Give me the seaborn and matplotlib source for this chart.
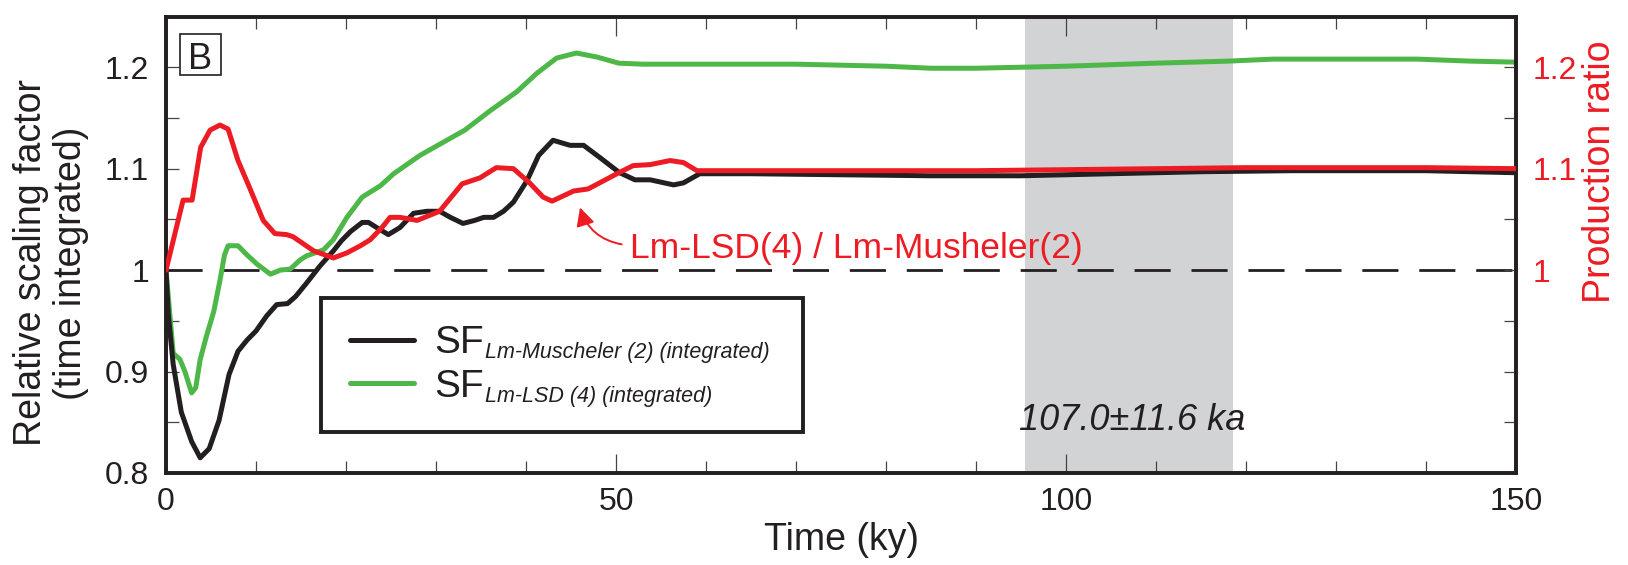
import matplotlib
matplotlib.use("Agg")
import matplotlib.pyplot as plt
import seaborn as sns
from matplotlib.ticker import FixedLocator, FixedFormatter, NullFormatter
from matplotlib.patches import Rectangle
from matplotlib.lines import Line2D
from matplotlib.legend_handler import HandlerLine2D

# ---------------- data ----------------
t_musch = [0, 0.26, 0.8, 1.7, 2.85, 3.8, 4.8, 5.9, 7.0, 8.0, 9.0, 10.0, 11.2, 12.3, 13.5,
           14.4, 15.6, 17.1, 18.6, 19.5, 20.5, 21.8, 22.5, 23.4, 24.7, 26.0, 27.5, 29.0,
           30.4, 31.6, 33.0, 34.3, 35.3, 36.4, 37.5, 38.6, 40.1, 41.4, 43.0, 44.9, 46.4,
           48.2, 50.4, 52.1, 53.8, 56.4, 57.5, 59.3, 65, 75, 85, 95, 105, 115, 125, 140, 150]
sf_musch = [1.0, 0.956, 0.907, 0.860, 0.831, 0.815, 0.824, 0.852, 0.897, 0.920, 0.931, 0.940,
            0.955, 0.966, 0.967, 0.974, 0.987, 1.004, 1.019, 1.029, 1.038, 1.047, 1.047, 1.042,
            1.035, 1.042, 1.056, 1.058, 1.058, 1.052, 1.046, 1.049, 1.052, 1.052, 1.058, 1.067,
            1.088, 1.113, 1.128, 1.123, 1.123, 1.111, 1.096, 1.089, 1.089, 1.084, 1.086, 1.095,
            1.095, 1.094, 1.093, 1.093, 1.095, 1.097, 1.098, 1.098, 1.096]

t_lsd = [0, 0.8, 1.55, 2.1, 2.85, 3.3, 3.8, 4.5, 5.3, 6.0, 6.5, 6.9, 8.0, 9.0, 10.1, 11.6,
         12.7, 13.8, 14.9, 15.6, 17.5, 18.6, 20.1, 21.8, 23.8, 25.3, 28.2, 30.8, 33.2, 36.0,
         39.0, 41.2, 43.4, 45.6, 47.9, 50.3, 53.0, 60, 70, 75, 80, 85, 90, 95, 100, 110, 118,
         123, 130, 139, 145, 150]
sf_lsd = [1.0, 0.918, 0.912, 0.900, 0.879, 0.884, 0.912, 0.935, 0.959, 0.990, 1.015, 1.024,
          1.024, 1.015, 1.006, 0.996, 1.000, 1.001, 1.010, 1.014, 1.020, 1.030, 1.052, 1.072,
          1.083, 1.095, 1.113, 1.126, 1.138, 1.157, 1.176, 1.194, 1.209, 1.214, 1.210, 1.204,
          1.203, 1.203, 1.203, 1.202, 1.201, 1.199, 1.199, 1.200, 1.201, 1.204, 1.206, 1.208,
          1.208, 1.208, 1.206, 1.205]

t_ratio = [0, 1.9, 2.9, 3.85, 4.9, 6.0, 6.9, 8.0, 9.3, 10.8, 12.1, 13.4, 14.1, 16.4, 18.6,
           20.1, 21.6, 22.7, 24.0, 24.9, 26.0, 27.9, 30.4, 32.9, 34.9, 36.7, 38.6, 40.4, 41.9,
           42.9, 45.3, 46.9, 50.1, 51.9, 53.8, 56.0, 57.5, 59.0, 63.8, 70, 80, 90, 100, 110,
           120, 130, 140, 150]
prod_ratio = [1.0, 1.069, 1.069, 1.121, 1.138, 1.143, 1.139, 1.108, 1.081, 1.049, 1.036, 1.035,
              1.033, 1.019, 1.012, 1.017, 1.024, 1.030, 1.042, 1.052, 1.052, 1.049, 1.058, 1.085,
              1.091, 1.101, 1.100, 1.086, 1.072, 1.068, 1.078, 1.080, 1.095, 1.103, 1.104, 1.108,
              1.106, 1.098, 1.098, 1.098, 1.098, 1.098, 1.099, 1.100, 1.101, 1.101, 1.101, 1.100]

age_center = 107.0
age_err = 11.6

x_ticks = [0, 50, 100, 150]
x_minor = [10, 20, 30, 40, 60, 70, 80, 90, 110, 120, 130, 140]
left_ticks = [0.8, 0.9, 1.0, 1.1, 1.2]
left_tick_labels = ["0.8", "0.9", "1", "1.1", "1.2"]
left_minor = [0.85, 0.95, 1.05, 1.15]
right_ticks = [1.0, 1.1, 1.2]
right_tick_labels = ["1", "1.1", "1.2"]
right_minor = [0.85, 0.9, 0.95, 1.05, 1.15]

legend_labels = ["SF", "SF"]
legend_subscripts = ["Lm-Muscheler (2) (integrated)", "Lm-LSD (4) (integrated)"]
ratio_label = "Lm-LSD(4) / Lm-Musheler(2)"
age_label = "107.0\u00b111.6 ka"

# ---------------- style ----------------
sns.set_theme(style="white")
plt.rcParams["font.family"] = ["Liberation Sans", "DejaVu Sans"]

BLACK = "#231F20"
GREEN = "#4DB848"
RED = "#ED1C24"
GREY = "#D1D3D4"
TICKC = "#444444"
LW = 3.6

fig = plt.figure(figsize=(16.28, 5.65), dpi=100)
ax = fig.add_axes([166 / 1628, 92 / 565, 1350 / 1628, 456.5 / 565])
ax.set_facecolor("white")

ax.axvspan(age_center - age_err, age_center + age_err, color=GREY, lw=0, zorder=0)
ax.axhline(1.0, color=BLACK, lw=2.0, dashes=(13, 7.5), zorder=1)

sns.lineplot(x=t_lsd, y=sf_lsd, ax=ax, color=GREEN, lw=LW, zorder=2)
h_lsd = ax.get_lines()[-1]
sns.lineplot(x=t_musch, y=sf_musch, ax=ax, color=BLACK, lw=LW, zorder=3)
h_musch = ax.get_lines()[-1]

ax.set_xlim(0, 150)
ax.set_ylim(0.8, 1.25)

ax2 = ax.twinx()
sns.lineplot(x=t_ratio, y=prod_ratio, ax=ax2, color=RED, lw=LW, zorder=3)
ax2.set_ylim(0.8, 1.25)
ax2.set_xlim(0, 150)

# ---------------- ticks ----------------
ax.xaxis.set_major_locator(FixedLocator(x_ticks))
ax.xaxis.set_minor_locator(FixedLocator(x_minor))
ax.set_xticklabels([str(v) for v in x_ticks])
ax.yaxis.set_major_locator(FixedLocator(left_ticks))
ax.yaxis.set_major_formatter(FixedFormatter(left_tick_labels))
ax.yaxis.set_minor_locator(FixedLocator(left_minor))
ax.tick_params(axis="x", which="major", direction="in", top=True, bottom=True,
               length=14, width=0.9, color=TICKC, labelsize=23, pad=10, labelcolor=BLACK)
ax.tick_params(axis="x", which="minor", direction="in", top=True, bottom=True,
               length=8.5, width=0.9, color=TICKC)
ax.tick_params(axis="y", which="both", direction="in", left=True, right=False,
               length=9, width=0.9, color=TICKC, labelsize=23, pad=12, labelcolor=BLACK)

ax2.yaxis.set_major_locator(FixedLocator(right_ticks))
ax2.yaxis.set_major_formatter(FixedFormatter(right_tick_labels))
ax2.yaxis.set_minor_locator(FixedLocator(right_minor))
ax2.yaxis.set_minor_formatter(NullFormatter())
ax2.tick_params(axis="y", which="both", direction="in", right=True, left=False,
                length=9, width=0.9, color=TICKC, labelsize=23, pad=12, labelcolor=RED)
ax2.tick_params(axis="x", which="both", bottom=False, top=False, labelbottom=False)

for a in (ax, ax2):
    for s in a.spines.values():
        s.set_linewidth(2.6)
        s.set_color(BLACK)

# ---------------- labels ----------------
ax.set_xlabel("Time (ky)", fontsize=27, color=BLACK, labelpad=4)
ax.set_ylabel("Relative scaling factor\n(time integrated)", fontsize=27, color=BLACK,
              linespacing=1.15)
ax.yaxis.set_label_coords(-0.057, 0.46)
ax2.set_ylabel("Production ratio", fontsize=27, color=RED)
ax2.yaxis.set_label_coords(1.049, 0.66)

# panel letter
ax.add_patch(Rectangle((0.01037, 0.8718), 0.03037, 0.0898, transform=ax.transAxes,
                       fill=True, fc="white", ec=BLACK, lw=1.2, zorder=6))
ax.text(0.0256, 0.8843, "B", transform=ax.transAxes, ha="center", va="baseline",
        fontsize=26, color=BLACK, zorder=7)

# age label
ax.text(age_center + 0.4, 0.8426, age_label, ha="center", va="baseline", fontsize=26,
        style="italic", color=BLACK, zorder=4)

# ratio annotation
ax2.text(51.6, 1.0122, ratio_label, ha="left", va="baseline", fontsize=25.5, color=RED)
ax2.annotate("", xy=(46.0, 1.0617), xytext=(50.63, 1.0254),
             arrowprops=dict(arrowstyle="-|>,head_length=0.55,head_width=0.28", color=RED,
                             lw=1.4, connectionstyle="arc3,rad=-0.3", shrinkA=0, shrinkB=0,
                             mutation_scale=20))

# ---------------- legend ----------------
leg = ax.legend(handles=[h_musch, h_lsd], labels=legend_labels, loc="upper left",
                bbox_to_anchor=(0.1148, 0.0898, 0.3571, 0.2936), mode="expand",
                borderaxespad=0, prop={"size": 28}, frameon=True, fancybox=False,
                framealpha=1, edgecolor=BLACK, borderpad=0.7, labelspacing=0.2,
                handlelength=1.7, handletextpad=0.5,
                handler_map={Line2D: HandlerLine2D(xpad=0.05)})
leg.get_frame().set_linewidth(2.8)
leg.set_zorder(5)
for txt in leg.get_texts():
    txt.set_color(BLACK)
for txt, sub in zip(leg.get_texts(), legend_subscripts):
    ax.annotate(sub, xy=(1, 0), xycoords=txt, xytext=(1, 2), textcoords="offset points",
                fontsize=15.5, style="italic", va="baseline", ha="left", color=BLACK,
                zorder=6, annotation_clip=False)

fig.savefig("out.png", dpi=100)
